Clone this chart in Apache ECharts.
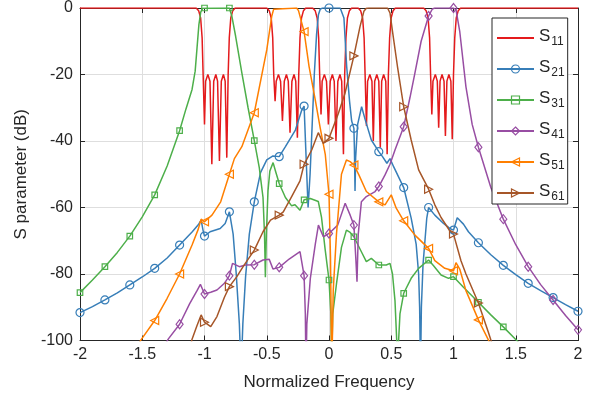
<!DOCTYPE html>
<html><head><meta charset="utf-8">
<script src="https://cdn.jsdelivr.net/npm/echarts@6/dist/echarts.min.js"></script>
<style>html,body{margin:0;padding:0;background:#fff}#c{width:595px;height:396px}</style>
</head><body><div id="c"></div>
<script>
// ---- axis ranges / ticks ----
const xRange = [-2, 2], xStep = 0.5;
const yRange = [-100, 0], yStep = 20;
const seriesNames = ['S11', 'S21', 'S31', 'S41', 'S51', 'S61'];

// ---- data: [normalized frequency, dB] ----
const S11 = [[-2,0],
 [-1.067,0],[-1.047,-0.8],[-1.031,-3],[-1.019,-9],[-1.011,-20],[-1.000,-35],[-0.991,-22],[-0.973,-20],[-0.956,-22],[-0.941,-47],[-0.926,-22],[-0.909,-20],[-0.895,-22],[-0.880,-46],[-0.865,-22],[-0.848,-20],[-0.834,-22],[-0.821,-45],[-0.810,-20],[-0.801,-9],[-0.789,-3],[-0.773,-0.8],[-0.754,0],
 [-0.500,0],[-0.480,-0.8],[-0.464,-3],[-0.452,-9],[-0.444,-20],[-0.433,-28],[-0.424,-22],[-0.406,-20],[-0.389,-22],[-0.374,-34],[-0.359,-22],[-0.342,-20],[-0.327,-22],[-0.313,-37.5],[-0.298,-22],[-0.281,-20],[-0.267,-22],[-0.254,-39],[-0.243,-20],[-0.233,-9],[-0.221,-3],[-0.205,-0.8],[-0.187,0],
 [-0.131,0],[-0.111,-0.8],[-0.095,-3],[-0.083,-9],[-0.075,-20],[-0.064,-32],[-0.055,-22],[-0.037,-20],[-0.020,-22],[-0.005,-35],[0.010,-22],[0.027,-20],[0.042,-22],[0.056,-40],[0.071,-22],[0.088,-20],[0.102,-22],[0.116,-44],[0.126,-20],[0.136,-9],[0.148,-3],[0.164,-0.8],[0.182,0],
 [0.234,0],[0.254,-0.8],[0.270,-3],[0.282,-9],[0.290,-20],[0.301,-35.5],[0.310,-22],[0.328,-20],[0.345,-22],[0.356,-40],[0.367,-22],[0.384,-20],[0.400,-22],[0.412,-42],[0.423,-22],[0.439,-20],[0.456,-22],[0.467,-44],[0.477,-20],[0.487,-9],[0.499,-3],[0.515,-0.8],[0.533,0],
 [0.760,0],[0.780,-0.8],[0.796,-3],[0.808,-9],[0.816,-20],[0.826,-32],[0.835,-22],[0.854,-20],[0.870,-22],[0.881,-36],[0.892,-22],[0.908,-20],[0.924,-22],[0.935,-38.5],[0.947,-22],[0.963,-20],[0.979,-22],[0.990,-39.5],[1.000,-20],[1.010,-9],[1.022,-3],[1.038,-0.8],[1.057,0],
 [2,0]];

const S21 = [[-2.0,-91.6],[-1.9,-89.8],[-1.8,-87.8],[-1.7,-85.7],[-1.6,-83.3],[-1.5,-80.9],[-1.4,-78.3],[-1.3,-75.2],[-1.2,-71.3],[-1.1,-67.4],[-1.05,-65.2],[-1.027,-63.8],[-1.012,-66.8],[-1.0,-68.6],[-0.955,-67.3],[-0.874,-66.3],[-0.834,-64.8],[-0.8,-61.3],[-0.77,-68],[-0.745,-80],[-0.72,-95],[-0.706,-110],[-0.692,-95],[-0.67,-80.8],[-0.64,-68],[-0.6,-58.3],[-0.55,-49.5],[-0.5,-45.7],[-0.45,-44.5],[-0.4,-44.7],[-0.35,-41.7],[-0.27,-36.7],[-0.22,-30.8],[-0.2,-29.5],[-0.187,-42],[-0.168,-60],[-0.152,-50],[-0.135,-35],[-0.118,-20],[-0.1,-8],[-0.085,-2],[-0.07,-0.3],[-0.05,0],[0,0],[0.09,0],[0.105,-0.3],[0.12,-3],[0.142,-17.6],[0.165,-28],[0.182,-34],[0.2,-36.2],[0.204,-42],[0.209,-55],[0.214,-45],[0.23,-35],[0.262,-29.7],[0.29,-33.5],[0.34,-39.7],[0.4,-43.2],[0.43,-44.7],[0.465,-46.7],[0.49,-45.3],[0.52,-47.8],[0.6,-54],[0.66,-63.2],[0.7,-71],[0.72,-80],[0.728,-90],[0.735,-110],[0.742,-90],[0.755,-77.3],[0.785,-63.3],[0.8,-60],[0.85,-62.3],[0.92,-64.8],[0.97,-66.3],[1.0,-66.8],[1.03,-63.1],[1.08,-65],[1.12,-67.3],[1.2,-70.6],[1.3,-74.2],[1.4,-77.4],[1.5,-80.2],[1.6,-82.8],[1.7,-85],[1.8,-87.1],[1.9,-89.2],[2.0,-91.2]];

const S31 = [[-2.0,-85.6],[-1.9,-81.8],[-1.8,-77.8],[-1.7,-73.5],[-1.6,-68.6],[-1.5,-62.8],[-1.4,-56.2],[-1.3,-47.5],[-1.2,-36.9],[-1.15,-30.5],[-1.1,-24.5],[-1.075,-19],[-1.06,-12],[-1.045,-5],[-1.03,-1.2],[-1.015,-0.1],[-1.0,0],[-0.8,0],[-0.79,-0.5],[-0.78,-2.5],[-0.75,-8.5],[-0.7,-19.5],[-0.65,-30],[-0.6,-39.9],[-0.56,-48],[-0.53,-57],[-0.518,-68],[-0.511,-81],[-0.503,-68],[-0.49,-55],[-0.475,-49],[-0.449,-46.5],[-0.43,-49],[-0.4,-52.8],[-0.35,-57],[-0.3,-59.5],[-0.273,-59.2],[-0.233,-60.8],[-0.2,-57.7],[-0.15,-57.3],[-0.086,-58.2],[-0.06,-63],[-0.032,-72.3],[0,-81.8],[0.015,-92],[0.022,-106],[0.03,-92],[0.06,-83],[0.1,-72],[0.14,-66.8],[0.17,-67.5],[0.2,-68.8],[0.26,-73.3],[0.3,-76.3],[0.34,-75.3],[0.4,-77.3],[0.46,-77.3],[0.49,-76.8],[0.51,-80],[0.53,-88],[0.551,-106],[0.57,-92],[0.6,-85.8],[0.66,-81.3],[0.72,-78.3],[0.8,-75.8],[0.84,-77.5],[0.9,-80.3],[0.96,-81.3],[1.0,-80.8],[1.08,-84],[1.2,-88.5],[1.3,-92.3],[1.4,-95.9],[1.5,-99.7],[1.56,-102]];

const S41 = [[-1.33,-102],[-1.29,-99.5],[-1.2,-95.1],[-1.12,-89],[-1.06,-85],[-1.033,-83.1],[-1.0,-86],[-0.95,-85.5],[-0.9,-84.8],[-0.84,-82.8],[-0.8,-80.5],[-0.775,-76.8],[-0.72,-77.8],[-0.67,-77.3],[-0.6,-77.2],[-0.53,-75.8],[-0.48,-75.6],[-0.45,-78.5],[-0.4,-78],[-0.32,-75.5],[-0.233,-73.3],[-0.2,-80.5],[-0.19,-92],[-0.185,-110],[-0.178,-95],[-0.15,-81.3],[-0.11,-71],[-0.085,-65.3],[-0.045,-68.8],[0,-67.8],[0.07,-65.3],[0.13,-58.7],[0.17,-62.3],[0.2,-65.3],[0.215,-75],[0.225,-82.3],[0.235,-68],[0.26,-58.3],[0.3,-56.7],[0.37,-55.2],[0.4,-53.7],[0.45,-50.2],[0.49,-47],[0.53,-42.7],[0.6,-35.7],[0.65,-27],[0.69,-19.6],[0.74,-10],[0.8,-2.4],[0.83,-0.3],[0.85,0],[1.0,0],[1.02,-0.5],[1.05,-7],[1.1,-23.7],[1.15,-35],[1.2,-41.9],[1.3,-54],[1.4,-63.5],[1.5,-71.2],[1.6,-77.8],[1.7,-83.2],[1.8,-87.8],[1.9,-92.5],[2.0,-96.8]];

const S51 = [[-1.56,-103],[-1.51,-99.8],[-1.4,-94],[-1.3,-87.3],[-1.2,-80],[-1.1,-71.3],[-1.05,-66.5],[-1.027,-63.5],[-1.0,-64.3],[-0.94,-62.3],[-0.87,-58.3],[-0.8,-50],[-0.76,-45.3],[-0.7,-41.7],[-0.6,-31.5],[-0.5,-12.6],[-0.46,-2.5],[-0.445,-0.4],[-0.43,0],[-0.26,0],[-0.245,-0.8],[-0.2,-7.1],[-0.16,-17.6],[-0.11,-27.7],[-0.07,-36.2],[-0.03,-44],[-0.015,-50],[0,-56],[0.012,-75],[0.022,-110],[0.034,-85],[0.06,-68],[0.1,-50],[0.14,-45.7],[0.17,-46.2],[0.2,-47.2],[0.24,-50.2],[0.3,-55.2],[0.4,-58.3],[0.45,-59.2],[0.5,-56.2],[0.54,-60.2],[0.6,-64],[0.69,-68.3],[0.8,-72.3],[0.85,-76],[0.93,-78.3],[1.0,-79],[1.02,-76.6],[1.05,-78.5],[1.1,-85],[1.2,-93.8],[1.28,-99.8],[1.32,-103]];

const S61 = [[-1.12,-103],[-1.1,-99.6],[-1.06,-95.5],[-1.027,-92.3],[-1.0,-94.5],[-0.95,-95.8],[-0.9,-92.8],[-0.84,-87],[-0.8,-83.8],[-0.74,-80.8],[-0.69,-77.8],[-0.6,-72.8],[-0.53,-67.3],[-0.47,-63.8],[-0.4,-62.3],[-0.367,-61.3],[-0.3,-56.7],[-0.233,-52],[-0.2,-47],[-0.139,-42.7],[-0.086,-37.5],[-0.046,-40.7],[0,-39.2],[0.075,-31.7],[0.128,-25.7],[0.2,-14.4],[0.249,-5.6],[0.28,-1],[0.3,-0.1],[0.32,0],[0.47,0],[0.49,-1.5],[0.51,-7],[0.55,-17.6],[0.6,-29.7],[0.66,-39.7],[0.72,-48.7],[0.8,-54.5],[0.85,-59.2],[0.9,-63],[0.97,-67],[1.0,-68],[1.06,-76],[1.1,-80],[1.2,-88.7],[1.28,-97.5],[1.31,-101]];

// ---- styling ----
const FONT = '"Liberation Sans", Arial, Helvetica, sans-serif';
const TXT = '#262626';
const GRIDC = '#dedede';
const styles = {
  S11: {color: '#e41a1c', symbol: 'none', size: 0},
  S21: {color: '#377eb8', symbol: 'circle', size: 8},
  S31: {color: '#4daf4a', symbol: 'rect', size: 5.5},
  S41: {color: '#984ea3', symbol: 'diamond', size: [7, 9]},
  S51: {color: '#ff7f00', symbol: 'path://M0,5L10,0L10,10Z', size: 8},
  S61: {color: '#a65628', symbol: 'path://M10,5L0,0L0,10Z', size: 8}
};
const dataMap = {S11, S21, S31, S41, S51, S61};

function isMarker(f) { const k = f * 5; return Math.abs(k - Math.round(k)) < 1e-6; }

function buildSeries(name) {
  const st = styles[name];
  const pts = dataMap[name];
  const hasSym = st.symbol !== 'none';
  return {
    name, type: 'line',
    data: pts.map(p => (hasSym && isMarker(p[0])) ? {value: p} : {value: p, symbol: 'none'}),
    symbol: hasSym ? st.symbol : 'circle',
    symbolSize: st.size,
    showSymbol: true, showAllSymbol: true,
    clip: true, silent: true, animation: false,
    color: st.color,
    lineStyle: {color: st.color, width: 1.5},
    itemStyle: hasSym
      ? {color: 'rgba(255,255,255,0)', borderColor: st.color, borderWidth: 1.2}
      : {color: 'rgba(255,255,255,0)', borderColor: 'rgba(255,255,255,0)', borderWidth: 0},
    emphasis: {disabled: true}
  };
}

const chart = echarts.init(document.getElementById('c'), null, {renderer: 'canvas'});
const axisCommon = {
  axisLine: {show: true, onZero: false, lineStyle: {color: TXT, width: 1}},
  axisTick: {show: true, inside: true, length: 5, lineStyle: {color: TXT, width: 1}}
};
chart.setOption({
  animation: false,
  backgroundColor: '#fff',
  textStyle: {fontFamily: FONT},
  grid: {left: 80, right: 17, top: 8, bottom: 55.5, containLabel: false},
  xAxis: [
    Object.assign({
      type: 'value', min: xRange[0], max: xRange[1], interval: xStep, position: 'bottom',
      name: 'Normalized Frequency', nameLocation: 'middle', nameGap: 33,
      nameTextStyle: {fontSize: 17, color: TXT, fontFamily: FONT},
      splitLine: {show: true, lineStyle: {color: GRIDC, width: 1}},
      axisLabel: {fontSize: 16, color: TXT, fontFamily: FONT, margin: 6}
    }, axisCommon),
    Object.assign({
      type: 'value', min: xRange[0], max: xRange[1], interval: xStep, position: 'top',
      splitLine: {show: false}, axisLabel: {show: false}
    }, axisCommon)
  ],
  yAxis: [
    Object.assign({
      type: 'value', min: yRange[0], max: yRange[1], interval: yStep, position: 'left',
      name: 'S parameter (dB)', nameLocation: 'middle', nameGap: 45,
      nameTextStyle: {fontSize: 17, color: TXT, fontFamily: FONT},
      splitLine: {show: true, lineStyle: {color: GRIDC, width: 1}},
      axisLabel: {fontSize: 16, color: TXT, fontFamily: FONT, margin: 7}
    }, axisCommon),
    Object.assign({
      type: 'value', min: yRange[0], max: yRange[1], interval: yStep, position: 'right',
      splitLine: {show: false}, axisLabel: {show: false}
    }, axisCommon)
  ],
  legend: {
    data: seriesNames,
    left: 492, top: 18, orient: 'vertical',
    padding: [4, 3, 1, 4],
    itemWidth: 37, itemHeight: 10, itemGap: 5,
    backgroundColor: '#fff', borderColor: TXT, borderWidth: 1, borderRadius: 0,
    itemStyle: {borderWidth: 1.2},
    selectedMode: false,
    textStyle: {
      color: TXT, fontFamily: FONT, fontSize: 17,
      rich: {
        s: {fontSize: 17, fontFamily: FONT, color: TXT, lineHeight: 20, verticalAlign: 'top'},
        b: {fontSize: 12, fontFamily: FONT, color: TXT, lineHeight: 12, verticalAlign: 'bottom', padding: [14, 0, 0, 1]}
      }
    },
    formatter: n => '{s|S}{b|' + n.slice(1) + '}'
  },
  series: seriesNames.map(buildSeries)
});
</script></body></html>
